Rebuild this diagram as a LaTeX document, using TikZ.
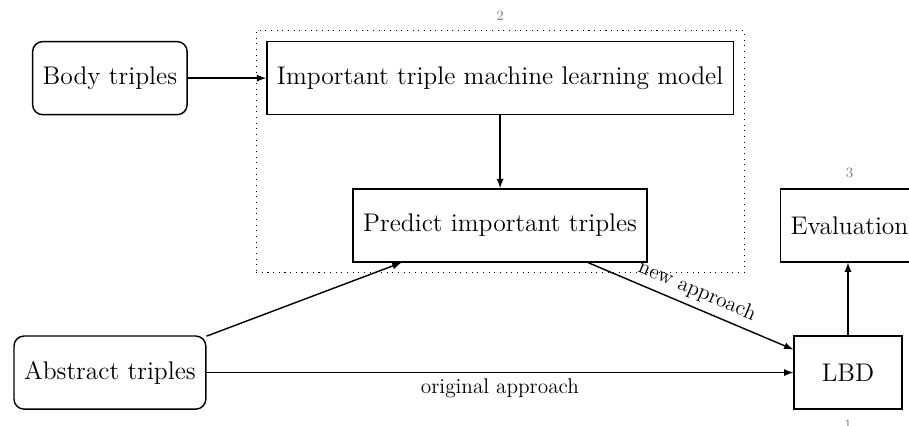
\documentclass[tikz,border=0pt]{standalone}
\usetikzlibrary{fit}
\begin{document}
\begin{tikzpicture}[box/.style={draw, thick, minimum height=1.45cm, inner sep=0.2cm, font=\Large},
        roundbox/.style={box, rounded corners=0.2cm},
        num/.style={gray, font=\footnotesize, label distance=2pt},
        link/.style={-latex, thick}]

        \useasboundingbox (0, 0) rectangle (18.03, 8.43);

        \node (body) at (2.18, 6.88) [roundbox] {Body triples};
        \node (model) at (9.92, 6.88) [box] {Important triple machine learning model};
        \node (predict) at (9.92, 3.96) [box] {Predict important triples};
        \node (eval) at (16.85, 3.96) [box, label={[num]above:3}] {Evaluation};
        \node (lbd) at (16.82, 1.04) [box, minimum width=2.14cm, label={[num]below:1}] {LBD};
        \node (abstract) at (2.18, 1.04) [roundbox] {Abstract triples};

        \node (group) [draw, dash pattern=on 0.6pt off 2.6pt, inner sep=0.2cm, fit=(model) (predict), label={[num]above:2}] {};

        \draw [link] (body) -- (model);
        \draw [link] (model) -- (predict);
        \draw [link] (abstract) -- (predict);
        \draw [link] (predict) -- node [midway, above, sloped, font=\large] {new approach} (lbd);
        \draw [link] (abstract) -- node [midway, below, font=\large] {original approach} (lbd);
        \draw [link] (lbd.north) -- (lbd.north |- eval.south);

    \end{tikzpicture}
\end{document}
